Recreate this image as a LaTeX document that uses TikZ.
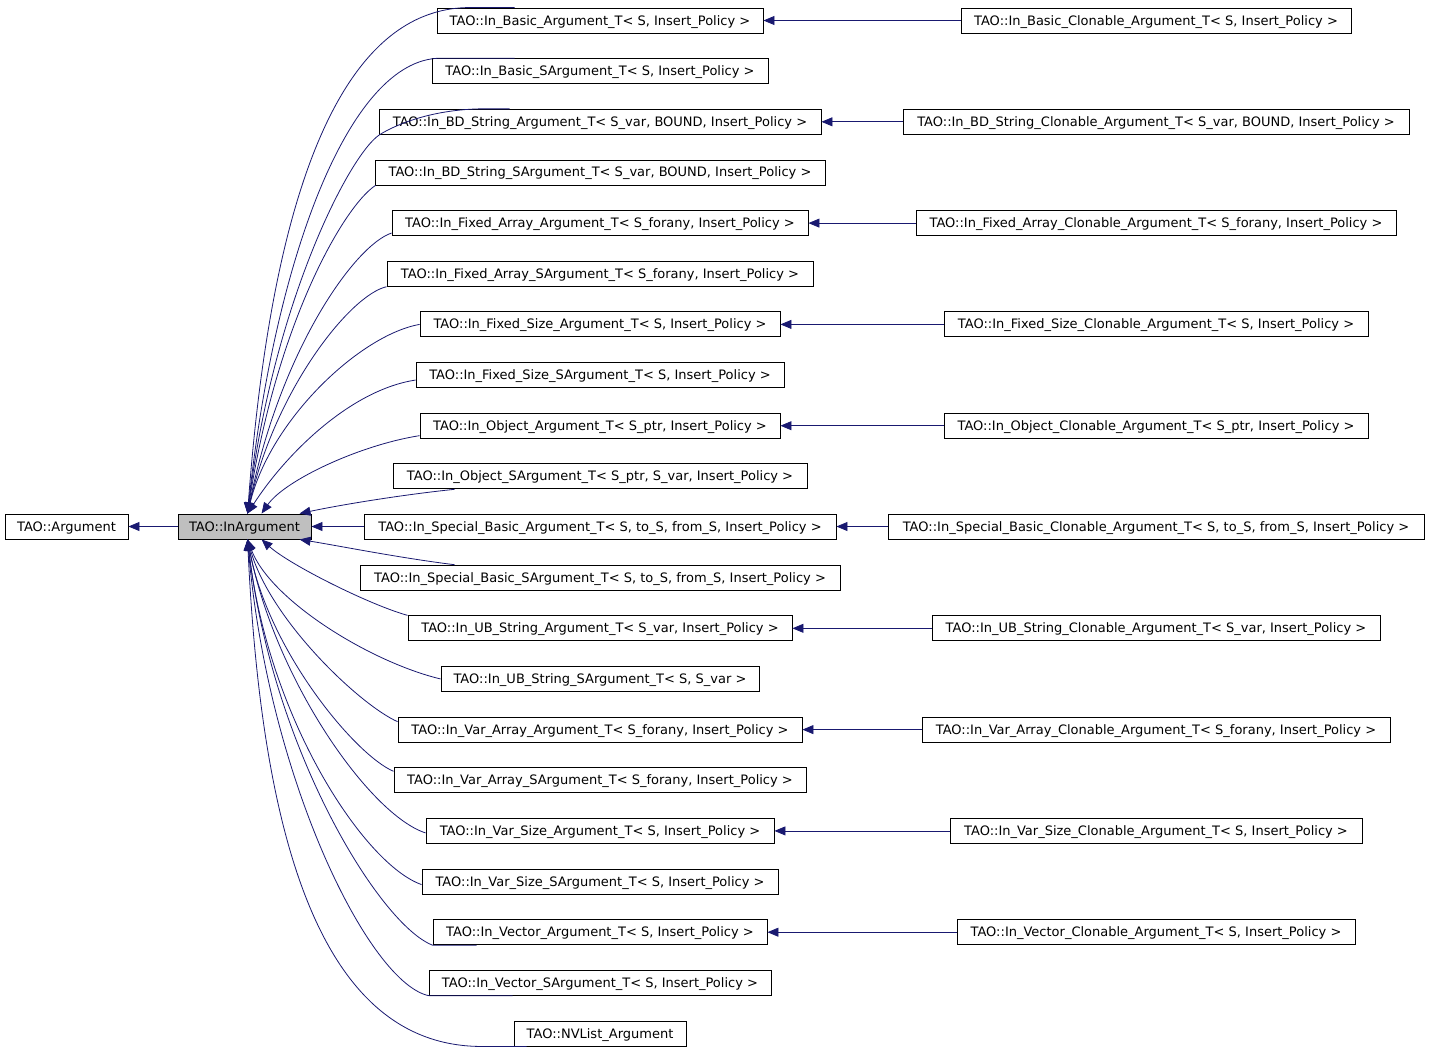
\documentclass[tikz,border=0pt]{standalone}
\usepackage{fontspec}
\setmainfont{DejaVu Sans}
\usetikzlibrary{arrows.meta,calc}
\definecolor{edgec}{RGB}{25,25,112}
\definecolor{grayfill}{RGB}{191,191,191}
\begin{document}
\begin{tikzpicture}[x=1pt,y=-1pt,
  box/.style={draw=black, line width=0.9pt, rectangle, minimum height=25pt, inner sep=0pt,
    text height=10.5pt, text depth=1.5pt,
    font=\fontsize{13}{15}\selectfont, text=black},
  edge/.style={draw=edgec, line width=0.8pt, -{Triangle[length=11pt,width=9pt]}}]
\useasboundingbox (0,0) rectangle (1429,1053);

% root and base
\node[box, minimum width=123pt] (arg) at (66.5,526.5) {TAO::Argument};
\node[box, minimum width=133pt, fill=grayfill] (in) at (244.5,526.5) {TAO::InArgument};

% middle column
\node[box, minimum width=326pt] (m0)  at (600,20.5)   {TAO::In\_Basic\_Argument\_T< S, Insert\_Policy >};
\node[box, minimum width=336pt] (m1)  at (600,71.15)  {TAO::In\_Basic\_SArgument\_T< S, Insert\_Policy >};
\node[box, minimum width=442pt] (m2)  at (600,121.8)  {TAO::In\_BD\_String\_Argument\_T< S\_var, BOUND, Insert\_Policy >};
\node[box, minimum width=450pt] (m3)  at (600,172.45) {TAO::In\_BD\_String\_SArgument\_T< S\_var, BOUND, Insert\_Policy >};
\node[box, minimum width=416pt] (m4)  at (600,223.1)  {TAO::In\_Fixed\_Array\_Argument\_T< S\_forany, Insert\_Policy >};
\node[box, minimum width=426pt] (m5)  at (600,273.75) {TAO::In\_Fixed\_Array\_SArgument\_T< S\_forany, Insert\_Policy >};
\node[box, minimum width=360pt] (m6)  at (600,324.4)  {TAO::In\_Fixed\_Size\_Argument\_T< S, Insert\_Policy >};
\node[box, minimum width=368pt] (m7)  at (600,375.05) {TAO::In\_Fixed\_Size\_SArgument\_T< S, Insert\_Policy >};
\node[box, minimum width=360pt] (m8)  at (600,425.7)  {TAO::In\_Object\_Argument\_T< S\_ptr, Insert\_Policy >};
\node[box, minimum width=414pt] (m9)  at (600,476.35) {TAO::In\_Object\_SArgument\_T< S\_ptr, S\_var, Insert\_Policy >};
\node[box, minimum width=472pt] (m10) at (600,526.5)  {TAO::In\_Special\_Basic\_Argument\_T< S, to\_S, from\_S, Insert\_Policy >};
\node[box, minimum width=480pt] (m11) at (600,577.65) {TAO::In\_Special\_Basic\_SArgument\_T< S, to\_S, from\_S, Insert\_Policy >};
\node[box, minimum width=384pt] (m12) at (600,628.3)  {TAO::In\_UB\_String\_Argument\_T< S\_var, Insert\_Policy >};
\node[box, minimum width=318pt] (m13) at (600,678.95) {TAO::In\_UB\_String\_SArgument\_T< S, S\_var >};
\node[box, minimum width=404pt] (m14) at (600,729.6)  {TAO::In\_Var\_Array\_Argument\_T< S\_forany, Insert\_Policy >};
\node[box, minimum width=412pt] (m15) at (600,780.25) {TAO::In\_Var\_Array\_SArgument\_T< S\_forany, Insert\_Policy >};
\node[box, minimum width=348pt] (m16) at (600,830.9)  {TAO::In\_Var\_Size\_Argument\_T< S, Insert\_Policy >};
\node[box, minimum width=356pt] (m17) at (600,881.55) {TAO::In\_Var\_Size\_SArgument\_T< S, Insert\_Policy >};
\node[box, minimum width=334pt] (m18) at (600,932.2)  {TAO::In\_Vector\_Argument\_T< S, Insert\_Policy >};
\node[box, minimum width=342pt] (m19) at (600,982.85) {TAO::In\_Vector\_SArgument\_T< S, Insert\_Policy >};
\node[box, minimum width=172pt] (m20) at (600,1033.5) {TAO::NVList\_Argument};

% right column
\node[box, minimum width=390pt] (r0)  at (1156,20.5)   {TAO::In\_Basic\_Clonable\_Argument\_T< S, Insert\_Policy >};
\node[box, minimum width=506pt] (r2)  at (1156,121.8)  {TAO::In\_BD\_String\_Clonable\_Argument\_T< S\_var, BOUND, Insert\_Policy >};
\node[box, minimum width=480pt] (r4)  at (1156,223.1)  {TAO::In\_Fixed\_Array\_Clonable\_Argument\_T< S\_forany, Insert\_Policy >};
\node[box, minimum width=424pt] (r6)  at (1156,324.4)  {TAO::In\_Fixed\_Size\_Clonable\_Argument\_T< S, Insert\_Policy >};
\node[box, minimum width=424pt] (r8)  at (1156,425.7)  {TAO::In\_Object\_Clonable\_Argument\_T< S\_ptr, Insert\_Policy >};
\node[box, minimum width=536pt] (r10) at (1156,526.5)  {TAO::In\_Special\_Basic\_Clonable\_Argument\_T< S, to\_S, from\_S, Insert\_Policy >};
\node[box, minimum width=448pt] (r12) at (1156,628.3)  {TAO::In\_UB\_String\_Clonable\_Argument\_T< S\_var, Insert\_Policy >};
\node[box, minimum width=468pt] (r14) at (1156,729.6)  {TAO::In\_Var\_Array\_Clonable\_Argument\_T< S\_forany, Insert\_Policy >};
\node[box, minimum width=412pt] (r16) at (1156,830.9)  {TAO::In\_Var\_Size\_Clonable\_Argument\_T< S, Insert\_Policy >};
\node[box, minimum width=398pt] (r18) at (1156,932.2)  {TAO::In\_Vector\_Clonable\_Argument\_T< S, Insert\_Policy >};

% arrow targets on InArgument
\coordinate (tu)  at ($(in.north west)+(70,0)$);
\coordinate (tu8) at ($(in.north west)+(84,0)$);
\coordinate (tu9) at ($(in.north west)+(122,0)$);
\coordinate (td)  at ($(in.south west)+(70,0)$);
\coordinate (td12) at ($(in.south west)+(84,0)$);
\coordinate (td11) at ($(in.south west)+(122,0)$);

% straight edges
\draw[edge] (in.west) -- (arg.east);
\draw[edge] (m10.west) -- (in.east);
\foreach \i in {0,2,4,6,8,10,12,14,16,18}{
  \draw[edge] (r\i.west) -- (m\i.east);
}

% upper curves
\draw[edge] ($(m0.north west)+(78,0)$) -- ($(m0.north west)+(33,0)$) .. controls (335,8) and (270,210) .. (tu);
\draw[edge] ($(m1.north west)+(83,0)$) -- ($(m1.north west)+(8,0)$) .. controls (350,60) and (275,255) .. (tu);
\draw[edge] ($(m2.north west)+(131,0)$) -- ($(m2.north west)+(101,0)$) .. controls (430,110) and (395,125) .. ($(m2.south west)+(1,0)$) .. controls (350,154) and (274,300) .. (tu);
\draw[edge] ($(m3.south west)+(1,0)$) .. controls (345,205) and (277,320) .. (tu);
\draw[edge] ($(m4.south west)+(0,-3)$) .. controls (355,245) and (280,350) .. (tu);
\draw[edge] (m5.south west) .. controls (350,295) and (275,390) .. (tu);
\draw[edge] (m6.west) .. controls (360,335) and (270,420) .. (tu);
\draw[edge] ($(m7.west)+(0,5)$) .. controls (350,390) and (285,455) .. (tu);
\draw[edge] ($(m8.south west)+(0,-3)$) .. controls (360,445) and (285,480) .. (tu8);
\draw[edge] ($(m9.south west)+(62,0)$) .. controls (400,495) and (340,505) .. (tu9);

% lower curves
\draw[edge] ($(m11.north west)+(95,0)$) .. controls (400,558) and (340,546) .. (td11);
\draw[edge] (m12.north west) .. controls (370,605) and (290,565) .. (td12);
\draw[edge] (m13.west) .. controls (370,662) and (270,600) .. (td);
\draw[edge] ($(m14.north west)+(0,5)$) .. controls (360,705) and (270,620) .. (td);
\draw[edge] ($(m15.north west)+(0,4)$) .. controls (355,755) and (268,650) .. (td);
\draw[edge] ($(m16.west)+(0,2)$) .. controls (370,815) and (275,680) .. (td);
\draw[edge] ($(m17.west)+(0,3)$) .. controls (365,865) and (268,720) .. (td);
\draw[edge] ($(m18.south west)+(44,0)$) -- (m18.south west) .. controls (380,925) and (272,750) .. (td);
\draw[edge] ($(m19.south west)+(84,0)$) -- ($(m19.south west)+(1,0)$) .. controls (370,985) and (268,780) .. (td);
\draw[edge] ($(m20.south west)+(13,0)$) -- ($(m20.south west)+(-31,0)$) .. controls (325,1047) and (262,850) .. (td);
\end{tikzpicture}
\end{document}
